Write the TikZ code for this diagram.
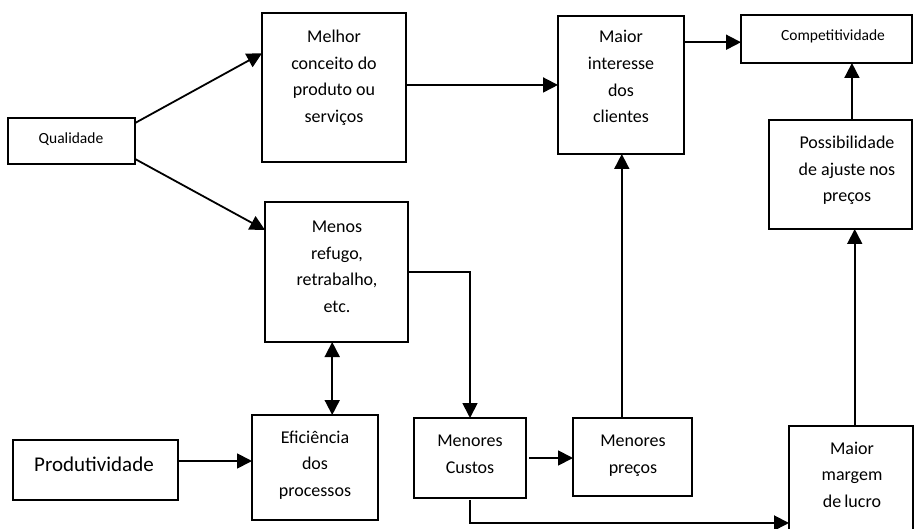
\documentclass[tikz,border=0pt]{standalone}
\usepackage{fontspec}
\setmainfont{Carlito}
\usetikzlibrary{arrows.meta,calc}
\begin{document}
\begin{tikzpicture}[x=1pt,y=-1pt,
  box/.style={draw, line width=1.8pt, rectangle, inner sep=0pt, outer sep=0pt, anchor=north west},
  txt/.style={align=center, anchor=base, inner sep=0pt, font=\fontsize{18}{26.7}\selectfont},
  small/.style={txt, font=\fontsize{15.5}{20}\selectfont},
  big/.style={txt, font=\fontsize{21}{26}\selectfont},
  arr/.style={line width=1.8pt, -{Triangle[length=15pt,width=15pt]}},
  darr/.style={line width=1.8pt, {Triangle[length=15pt,width=15pt]}-{Triangle[length=15pt,width=15pt]}}]
\useasboundingbox (0,0) rectangle (915,529);
\clip (0,0) rectangle (915,529);

% boxes
\node[box, minimum width=127pt, minimum height=46pt]  (qual)   at (8,118)   {};
\node[box, minimum width=144pt, minimum height=149pt] (melhor) at (262,13)  {};
\node[box, minimum width=143pt, minimum height=140pt] (menos)  at (265,202) {};
\node[box, minimum width=126pt, minimum height=138pt] (maior)  at (558,16)  {};
\node[box, minimum width=171pt, minimum height=48pt]  (comp)   at (741,15)  {};
\node[box, minimum width=143pt, minimum height=109pt] (poss)   at (769,120) {};
\node[box, minimum width=165pt, minimum height=60pt]  (prod)   at (13,440)  {};
\node[box, minimum width=126pt, minimum height=105pt] (efic)   at (252,415) {};
\node[box, minimum width=112pt, minimum height=80pt]  (custos) at (414,418) {};
\node[box, minimum width=119pt, minimum height=78pt]  (precos) at (573,418) {};
\node[box, minimum width=124pt, minimum height=130pt] (margem) at (789,426) {};

% labels (anchored on the baseline of their last line)
\node[small] (qual-t)   at (71,143.3)  {Qualidade};
\node[txt]   (melhor-t) at (334,122.5) {Melhor\\conceito do\\produto ou\\serviços};
\node[txt]   (menos-t)  at (337,312.5) {Menos\\refugo,\\retrabalho,\\etc.};
\node[txt]   (maior-t)  at (621,123)   {Maior\\interesse\\dos\\clientes};
\node[small] (comp-t)   at (833,41)    {Competitividade};
\node[txt]   (poss-t)   at (847,202)   {Possibilidade\\de ajuste nos\\preços};
\node[big]   (prod-t)   at (94,471.7)  {Produtividade};
\node[txt]   (efic-t)   at (315,496.5) {Eficiência\\dos\\processos};
\node[txt]   (custos-t) at (470,473.5) {Menores\\Custos};
\node[txt]   (precos-t) at (633,473)   {Menores\\preços};
\node[txt]   (margem-t) at (852,507.5) {Maior\\margem\\de\,lucro};

% connectors
\draw[arr] ($(qual.north east)!0.11!(qual.south east)$) -- ($(melhor.north west)!0.27!(melhor.south west)$);
\draw[arr] ($(qual.north east)!0.89!(qual.south east)$) -- ($(menos.north west)!0.2!(menos.south west)$);
\draw[arr] ($(melhor.north east)!0.483!(melhor.south east)$) coordinate (m1) -- (m1 -| maior.west);
\draw[arr] ($(maior.north east)!0.19!(maior.south east)$) coordinate (m2) -- (m2 -| comp.west);
\draw[arr] ($(poss.north west)!0.58!(poss.north east)$) coordinate (p1) -- (p1 |- comp.south);
\draw[arr] ($(margem.north west)!0.53!(margem.north east)$) coordinate (p2) -- (p2 |- poss.south);
\draw[arr] ($(precos.north west)!0.41!(precos.north east)$) coordinate (p3) -- (p3 |- maior.south);
\draw[arr] (menos.east) -| (custos.north);
\draw[arr, shorten <=3pt] (custos.east) -- (custos.east -| precos.west);
\draw[arr, shorten <=2pt] (custos.south) |- ($(margem.north west)!0.746!(margem.south west)$);
\draw[arr] ($(prod.north east)!0.35!(prod.south east)$) coordinate (p4) -- (p4 -| efic.west);
\draw[darr] ($(menos.south west)!0.47!(menos.south east)$) coordinate (p5) -- (p5 |- efic.north);
\end{tikzpicture}
\end{document}
